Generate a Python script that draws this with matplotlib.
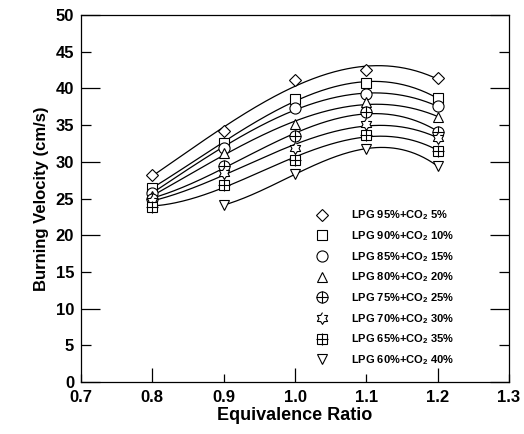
import numpy as np
import matplotlib
matplotlib.use("Agg")
import matplotlib.pyplot as plt
from matplotlib.lines import Line2D

plt.rcParams['font.family'] = ['Liberation Sans', 'DejaVu Sans']
plt.rcParams['font.weight'] = 'bold'
plt.rcParams['mathtext.fontset'] = 'custom'
plt.rcParams['mathtext.bf'] = 'Liberation Sans:bold'
plt.rcParams['mathtext.rm'] = 'Liberation Sans:bold'
plt.rcParams['mathtext.default'] = 'bf'

# equivalence ratio
phi = [0.8, 0.9, 1.0, 1.1, 1.2]
phi_40 = [0.9, 1.0, 1.1, 1.2]

# burning velocity (cm/s)
co2_5 = [28.2, 34.2, 41.1, 42.5, 41.4]
co2_10 = [26.5, 32.5, 38.6, 40.7, 38.7]
co2_15 = [25.8, 31.9, 37.3, 39.2, 37.6]
co2_20 = [25.3, 31.2, 35.1, 38.1, 36.1]
co2_25 = [25.0, 29.4, 33.5, 36.8, 34.1]
co2_30 = [24.6, 28.5, 31.9, 35.2, 33.2]
co2_35 = [23.9, 26.8, 30.2, 33.7, 31.5]
co2_40 = [24.1, 28.3, 31.8, 29.4]

labels = ["LPG 95%+CO$_{2}$ 5%", "LPG 90%+CO$_{2}$ 10%", "LPG 85%+CO$_{2}$ 15%",
          "LPG 80%+CO$_{2}$ 20%", "LPG 75%+CO$_{2}$ 25%", "LPG 70%+CO$_{2}$ 30%",
          "LPG 65%+CO$_{2}$ 35%", "LPG 60%+CO$_{2}$ 40%"]

# six-pointed star outline
ang = np.pi / 2 + np.arange(12) * np.pi / 6
rad = np.where(np.arange(12) % 2 == 0, 1.0, 0.6)
star = list(zip(rad * np.cos(ang), rad * np.sin(ang)))

series = [
    (phi, co2_5, ['D'], 6.0),
    (phi, co2_10, ['s'], 7.5),
    (phi, co2_15, ['o'], 8.0),
    (phi, co2_20, ['^'], 7.0),
    (phi, co2_25, ['o', '+'], 8.0),
    (phi, co2_30, [star], 8.5),
    (phi, co2_35, ['s', '+'], 7.5),
    (phi_40, co2_40, ['v'], 7.0),
]

fig = plt.figure(figsize=(5.24, 4.34), dpi=100)
ax = fig.add_axes([0.1546, 0.1198, 0.8168, 0.8456])

handles = []
for (x, y, marks, ms) in series:
    coef = np.polyfit(x, y, 3)
    xs = np.linspace(x[0], x[-1], 200)
    ax.plot(xs, np.polyval(coef, xs), color='black', lw=0.9)
    parts = []
    for m in marks:
        mss = ms * 1.1 if m == '+' else ms
        ax.plot(x, y, linestyle='none', marker=m, ms=mss, mfc='white' if m != '+' else 'none',
                mec='black', mew=0.8, zorder=3)
        parts.append(Line2D([], [], linestyle='none', marker=m, ms=mss,
                            mfc='white' if m != '+' else 'none', mec='black', mew=0.8))
    handles.append(tuple(parts) if len(parts) > 1 else parts[0])

ax.set_xlim(0.7, 1.3)
ax.set_ylim(0, 50)
ax.set_xticks([0.8, 1.0, 1.2])
ax.set_xticks([0.7, 0.9, 1.1, 1.3], minor=True)
ax.set_xticklabels(['0.8', '1.0', '1.2'])
ax.set_xticklabels(['0.7', '0.9', '1.1', '1.3'], minor=True)
ax.set_yticks(np.arange(0, 51, 10))
ax.set_yticks(np.arange(5, 50, 10), minor=True)
ax.set_yticklabels([str(v) for v in range(0, 51, 10)])
ax.set_yticklabels([str(v) for v in range(5, 50, 10)], minor=True)

ax.tick_params(which='both', direction='in', right=True, top=False, labelsize=12, width=0.9)
ax.tick_params(axis='y', which='major', length=14, pad=5)
ax.tick_params(axis='y', which='minor', length=7, pad=5)
ax.tick_params(axis='x', which='major', length=10, pad=6)
ax.tick_params(axis='x', which='minor', length=6, pad=6)
for s in ax.spines.values():
    s.set_linewidth(0.9)

ax.set_xlabel('Equivalence Ratio', fontsize=13, fontweight='bold', labelpad=1)
ax.set_ylabel('Burning Velocity (cm/s)', fontsize=12, fontweight='bold', labelpad=5)

ax.legend(handles, labels, loc='upper left', bbox_to_anchor=(0.52, 0.50), frameon=False,
          fontsize=8, labelspacing=0.62, handlelength=1.5, handletextpad=1.9)

fig.savefig('out.png', dpi=100)
